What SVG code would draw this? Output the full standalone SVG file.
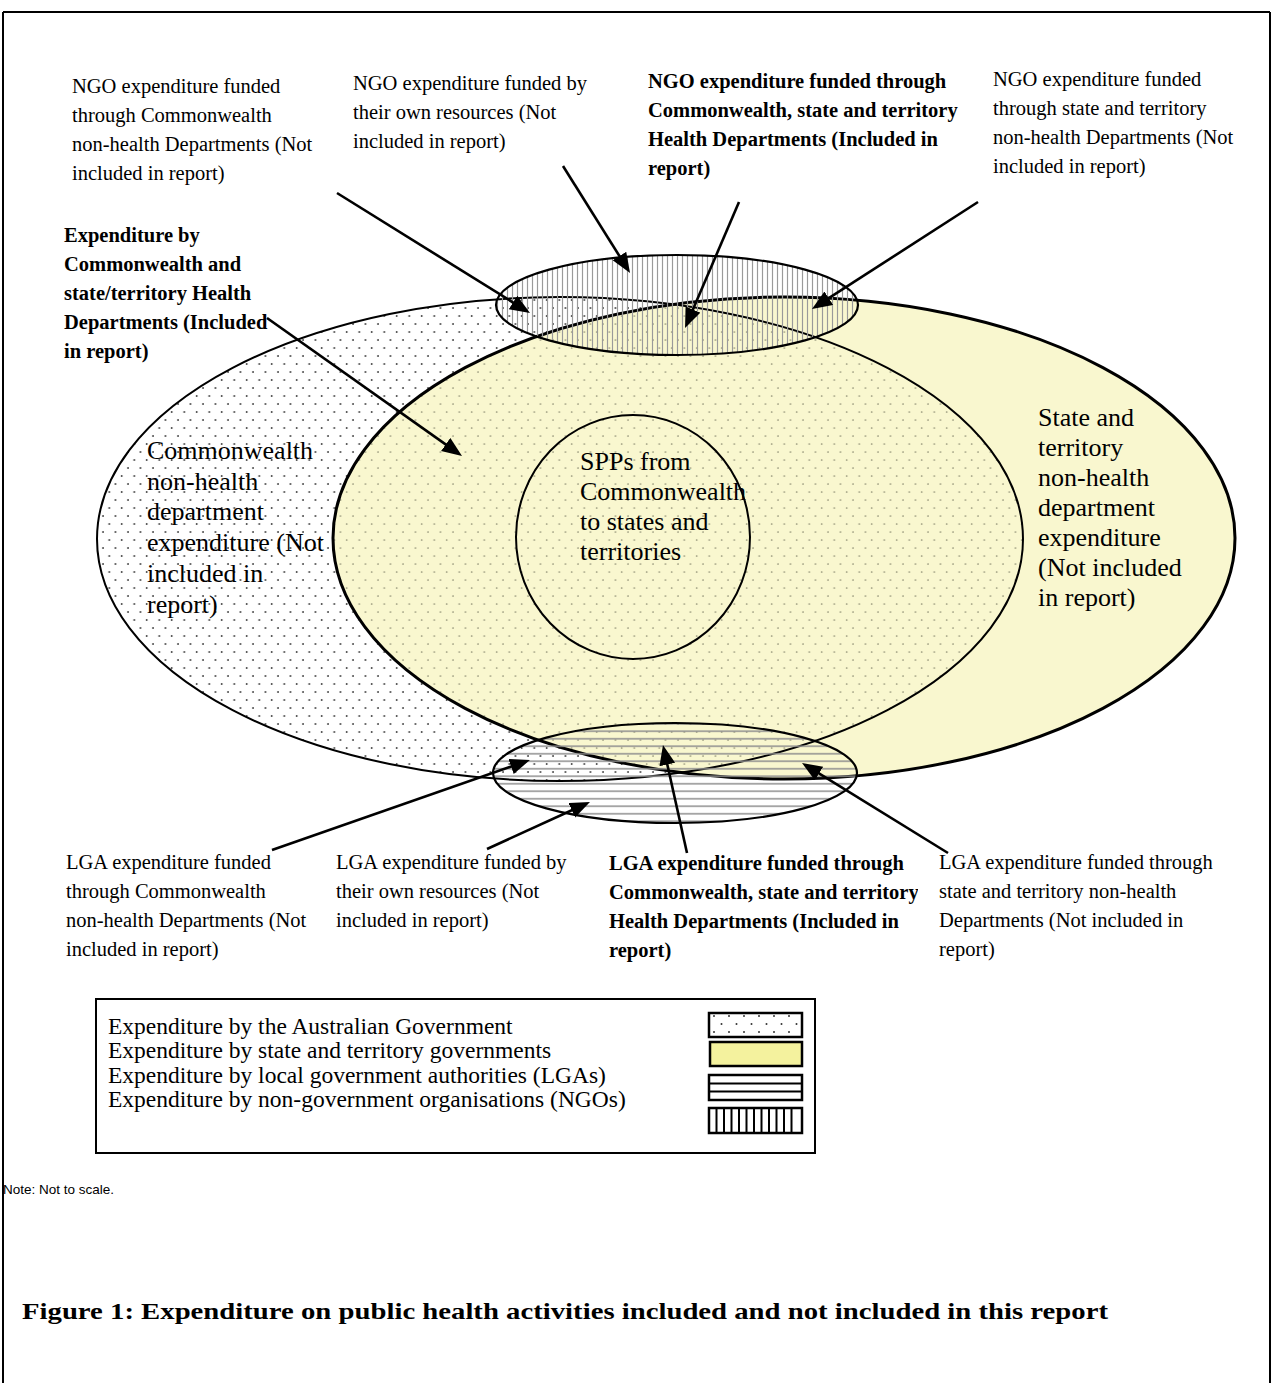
<svg xmlns="http://www.w3.org/2000/svg" width="1273" height="1383" viewBox="0 0 1273 1383">
<style>
.lbl{font-family:"Liberation Serif","Times New Roman",serif;font-size:20.5px;fill:#000}
.b{font-weight:bold}
.big{font-family:"Liberation Serif","Times New Roman",serif;font-size:26px;fill:#000}
.leg{font-family:"Liberation Serif","Times New Roman",serif;font-size:23.5px;fill:#000}
.arrow{stroke:#000;stroke-width:2.6;fill:none;marker-end:url(#ah)}
.frame{stroke:#000;stroke-width:2;fill:none}
</style>
<defs>
<marker id="ah" markerUnits="userSpaceOnUse" markerWidth="22" markerHeight="18" viewBox="0 0 22 18" refX="12" refY="8" orient="auto"><path d="M0,0 L20,8 L0,16 z" fill="#000"/></marker>
<pattern id="dots" width="12.5" height="16" patternUnits="userSpaceOnUse"><circle cx="3" cy="4" r="0.9" fill="#333"/><circle cx="9.25" cy="12" r="0.9" fill="#333"/></pattern>
<pattern id="dotsY" width="12.5" height="16" patternUnits="userSpaceOnUse"><circle cx="3" cy="4" r="0.85" fill="#8c8c72"/><circle cx="9.25" cy="12" r="0.85" fill="#8c8c72"/></pattern>
<pattern id="vstripes" width="5" height="10" patternUnits="userSpaceOnUse"><line x1="2.5" y1="0" x2="2.5" y2="10" stroke="#9a9a9a" stroke-width="1.2"/></pattern>
<pattern id="hstripes" width="10" height="7.5" patternUnits="userSpaceOnUse"><line x1="0" y1="3.75" x2="10" y2="3.75" stroke="#8e8e8e" stroke-width="1.5"/></pattern>
<pattern id="legdots" width="15" height="16" patternUnits="userSpaceOnUse" x="709" y="1012"><circle cx="5" cy="4" r="1" fill="#333"/><circle cx="12.5" cy="12" r="1" fill="#333"/></pattern>
<clipPath id="leftClip"><ellipse cx="560" cy="539" rx="463" ry="242"/></clipPath>
<clipPath id="lgaTextClip"><rect x="600" y="840" width="318" height="140"/></clipPath>
</defs>

<rect x="0" y="0" width="1273" height="1383" fill="#fff"/>
<g id="frame">
<line class="frame" x1="3" y1="12" x2="1270" y2="12"/>
<line class="frame" x1="3" y1="12" x2="3" y2="1383"/>
<line class="frame" x1="1270" y1="12" x2="1270" y2="1383"/>
</g>

<g id="commonwealth-area">
<ellipse cx="560" cy="539" rx="463" ry="242" fill="#fff"/>
<ellipse cx="560" cy="539" rx="463" ry="242" fill="url(#dots)"/>
</g>
<g id="state-area">
<ellipse cx="784" cy="538" rx="451" ry="241" fill="#F9F7CF"/>
<ellipse cx="784" cy="538" rx="451" ry="241" fill="url(#dotsY)" clip-path="url(#leftClip)"/>
<ellipse cx="560" cy="539" rx="463" ry="242" fill="none" stroke="#000" stroke-width="2"/>
<ellipse cx="784" cy="538" rx="451" ry="241" fill="none" stroke="#000" stroke-width="3"/>
</g>
<g id="spp">
<ellipse cx="633" cy="537" rx="117" ry="122" fill="none" stroke="#000" stroke-width="2"/>
</g>
<g id="ngo-area">
<ellipse cx="677" cy="305" rx="181" ry="50" fill="url(#vstripes)" stroke="#000" stroke-width="2.2"/>
</g>
<g id="lga-area">
<ellipse cx="675" cy="773" rx="182" ry="50" fill="url(#hstripes)" stroke="#000" stroke-width="2.2"/>
</g>

<g id="connectors">
<line class="arrow" x1="337" y1="193" x2="523.2" y2="308.8"/>
<line class="arrow" x1="563" y1="166" x2="625.8" y2="266.2"/>
<line class="arrow" x1="739" y1="202" x2="688.2" y2="320.6"/>
<line class="arrow" x1="978" y1="202" x2="818.7" y2="304.7"/>
<line class="arrow" x1="267" y1="318" x2="455.5" y2="451.4"/>
<line class="arrow" x1="272" y1="850" x2="522.4" y2="762.6"/>
<line class="arrow" x1="487" y1="849" x2="582.7" y2="805.3"/>
<line class="arrow" x1="687" y1="853" x2="664.7" y2="752.8"/>
<line class="arrow" x1="948" y1="853" x2="808.8" y2="767.2"/>
</g>

<g id="label-ngo-cw-nonhealth">
<text class="lbl"><tspan x="72" y="93">NGO expenditure funded</tspan><tspan x="72" y="122">through Commonwealth</tspan><tspan x="72" y="151">non-health Departments (Not</tspan><tspan x="72" y="180">included in report)</tspan></text>
</g>
<g id="label-ngo-own">
<text class="lbl"><tspan x="353" y="90">NGO expenditure funded by</tspan><tspan x="353" y="119">their own resources (Not</tspan><tspan x="353" y="148">included in report)</tspan></text>
</g>
<g id="label-ngo-health">
<text class="lbl b"><tspan x="648" y="88">NGO expenditure funded through</tspan><tspan x="648" y="117">Commonwealth, state and territory</tspan><tspan x="648" y="146">Health Departments (Included in</tspan><tspan x="648" y="175">report)</tspan></text>
</g>
<g id="label-ngo-state-nonhealth">
<text class="lbl"><tspan x="993" y="86">NGO expenditure funded</tspan><tspan x="993" y="115">through state and territory</tspan><tspan x="993" y="144">non-health Departments (Not</tspan><tspan x="993" y="173">included in report)</tspan></text>
</g>
<g id="label-health-depts">
<text class="lbl b"><tspan x="64" y="242">Expenditure by</tspan><tspan x="64" y="271">Commonwealth and</tspan><tspan x="64" y="300">state/territory Health</tspan><tspan x="64" y="329">Departments (Included</tspan><tspan x="64" y="358">in report)</tspan></text>
</g>

<g id="label-cw-nonhealth">
<text class="big"><tspan x="147" y="459">Commonwealth</tspan><tspan x="147" y="490">non-health</tspan><tspan x="147" y="520">department</tspan><tspan x="147" y="551">expenditure (Not</tspan><tspan x="147" y="582">included in</tspan><tspan x="147" y="613">report)</tspan></text>
</g>
<g id="label-spp">
<text class="big"><tspan x="580" y="470">SPPs from</tspan><tspan x="580" y="500">Commonwealth</tspan><tspan x="580" y="530">to states and</tspan><tspan x="580" y="560">territories</tspan></text>
</g>
<g id="label-state-nonhealth">
<text class="big"><tspan x="1038" y="426">State and</tspan><tspan x="1038" y="456">territory</tspan><tspan x="1038" y="486">non-health</tspan><tspan x="1038" y="516">department</tspan><tspan x="1038" y="546">expenditure</tspan><tspan x="1038" y="576">(Not included</tspan><tspan x="1038" y="606">in report)</tspan></text>
</g>

<g id="label-lga-cw-nonhealth">
<text class="lbl"><tspan x="66" y="869">LGA expenditure funded</tspan><tspan x="66" y="898">through Commonwealth</tspan><tspan x="66" y="927">non-health Departments (Not</tspan><tspan x="66" y="956">included in report)</tspan></text>
</g>
<g id="label-lga-own">
<text class="lbl"><tspan x="336" y="869">LGA expenditure funded by</tspan><tspan x="336" y="898">their own resources (Not</tspan><tspan x="336" y="927">included in report)</tspan></text>
</g>
<g id="label-lga-health">
<text class="lbl b" clip-path="url(#lgaTextClip)"><tspan x="609" y="870">LGA expenditure funded through</tspan><tspan x="609" y="899">Commonwealth, state and territory</tspan><tspan x="609" y="928">Health Departments (Included in</tspan><tspan x="609" y="957">report)</tspan></text>
</g>
<g id="label-lga-state-nonhealth">
<text class="lbl"><tspan x="939" y="869">LGA expenditure funded through</tspan><tspan x="939" y="898">state and territory non-health</tspan><tspan x="939" y="927">Departments (Not included in</tspan><tspan x="939" y="956">report)</tspan></text>
</g>

<g id="legend">
<rect x="96" y="999" width="719" height="154" fill="#fff" stroke="#000" stroke-width="2"/>
<text class="leg"><tspan x="108" y="1034">Expenditure by the Australian Government</tspan><tspan x="108" y="1058">Expenditure by state and territory governments</tspan><tspan x="108" y="1083">Expenditure by local government authorities (LGAs)</tspan><tspan x="108" y="1107">Expenditure by non-government organisations (NGOs)</tspan></text>
<rect x="709" y="1013" width="93" height="24" fill="url(#legdots)" stroke="#000" stroke-width="2.5"/>
<rect x="710" y="1042" width="92" height="24" fill="#F4F29E" stroke="#000" stroke-width="2.5"/>
<rect x="709" y="1075" width="93" height="25" fill="#fff" stroke="#000" stroke-width="2.5"/>
<line x1="709" y1="1083.5" x2="802" y2="1083.5" stroke="#000" stroke-width="2.2"/>
<line x1="709" y1="1091.5" x2="802" y2="1091.5" stroke="#000" stroke-width="2.2"/>
<rect x="709" y="1108" width="93" height="25" fill="#fff" stroke="#000" stroke-width="2.5"/>
<path d="M716.5,1108V1133M724,1108V1133M731.5,1108V1133M739,1108V1133M746.5,1108V1133M754,1108V1133M761.5,1108V1133M769,1108V1133M776.5,1108V1133M784,1108V1133M791.5,1108V1133" stroke="#000" stroke-width="2"/>
</g>

<g id="note">
<text x="3" y="1194" style="font-family:'Liberation Sans',Arial,sans-serif;font-size:13.5px">Note: Not to scale.</text>
</g>
<g id="caption">
<text x="22" y="1319" textLength="1086" lengthAdjust="spacingAndGlyphs" style="font-family:'Liberation Serif','Times New Roman',serif;font-size:24px;font-weight:bold">Figure 1: Expenditure on public health activities included and not included in this report</text>
</g>
</svg>
